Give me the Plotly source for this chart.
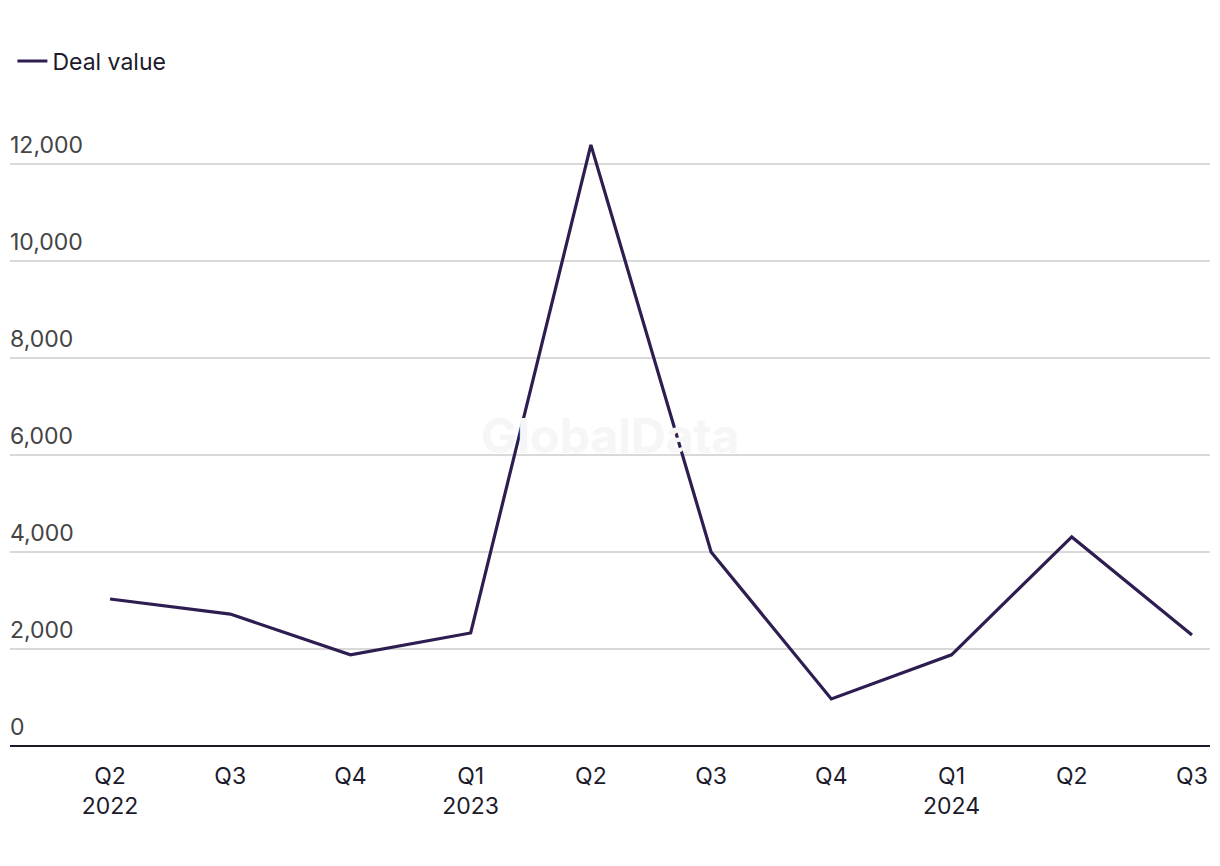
import plotly.graph_objects as go

quarters = ["Q2<br>2022", "Q3", "Q4", "Q1<br>2023", "Q2", "Q3", "Q4", "Q1<br>2024", "Q2", "Q3"]
deal_value = [3030, 2720, 1880, 2330, 12390, 4000, 970, 1880, 4310, 2290]
y_ticks = [0, 2000, 4000, 6000, 8000, 10000, 12000]

x_idx = list(range(len(quarters)))

fig = go.Figure()
fig.add_trace(go.Scatter(
    x=x_idx, y=deal_value, mode="lines", name="Deal value",
    line=dict(color="#2e1d50", width=3.2),
))

fig.add_annotation(
    text="<b>GlobalData</b>", x=0.5, y=0.5, xref="paper", yref="paper",
    showarrow=False, font=dict(size=48, color="#f6f6f6", family="Inter"),
)

fig.update_layout(
    width=1212, height=858,
    margin=dict(l=2, r=10, t=117, b=120, autoexpand=False),
    paper_bgcolor="white", plot_bgcolor="white",
    font=dict(family="Inter", size=23, color="#1c1b2b"),
    showlegend=True,
    legend=dict(x=0.002, y=1.103, xref="paper", yref="paper", xanchor="left", yanchor="middle",
                orientation="h", font=dict(size=23)),
    xaxis=dict(
        range=[-0.832, 9.15], tickvals=x_idx, ticktext=quarters,
        showgrid=False, zeroline=False, showline=False, ticks="",
        tickfont=dict(size=23), automargin=False, ticklabelstandoff=14,
    ),
    yaxis=dict(
        range=[0, 12800], tickvals=y_ticks, ticktext=[f"{v:,}" for v in y_ticks],
        showgrid=True, gridcolor="#d9d9d9", gridwidth=1.5,
        zeroline=True, zerolinecolor="#1c1b2b", zerolinewidth=2,
        ticklabelposition="inside top", ticks="", showline=False,
        tickfont=dict(size=23), automargin=False, ticklabelstandoff=-3,
        ticklabelshift=-3,
    ),
)

fig.write_html("out.html")
